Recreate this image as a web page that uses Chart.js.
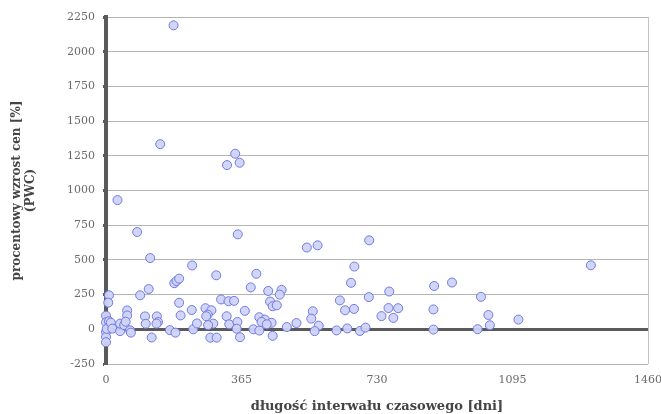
<!DOCTYPE html>
<html>
<head>
<meta charset="utf-8">
<script src="https://cdn.jsdelivr.net/npm/chart.js@4/dist/chart.umd.min.js"></script>
<style>
  html, body { margin: 0; padding: 0; background: #fff; }
  #wrap { width: 661px; height: 414px; }
</style>
</head>
<body>
<div id="wrap"><canvas id="chart"></canvas></div>
<script>
// interval length in days and price growth (PWC) in %
const days = [
    182, 146, 348, 326, 360, 31, 84, 355, 119, 232, 297, 405, 541, 570, 709, 669, 1306,
    184, 190, 197, 8, 6, 92, 115, 390, 437, 473, 468, 660, 884, 932,
    310, 330, 345, 442, 449, 460, 197, 374, 231, 630, 708, 763, 1010,
    644, 668, 761, 787, 774, 742, 882, 557, 553, 513, 487, 573, 562, 621, 650, 684, 699,
    882, 1001, 1030, 1034, 1111,
    0, 0, 0, 0, 0, 2, 8, 13, 17, 38, 38, 49, 57, 57, 53, 65, 67,
    105, 107, 123, 137, 140, 136, 172, 187, 201, 235, 245,
    268, 284, 274, 270, 289, 275, 281, 298, 325, 332, 354, 352, 361,
    397, 413, 413, 428, 419, 446, 433, 449
];
const pwc = [
    2190, 1334, 1265, 1183, 1200, 931, 701, 684, 513, 460, 389, 400, 589, 605, 641, 452, 461,
    332, 348, 365, 245, 192, 245, 290, 302, 276, 284, 250, 335, 312, 337,
    215, 202, 205, 200, 166, 173, 191, 133, 139, 208, 232, 272, 234,
    137, 147, 153, 152, 82, 95, 143, 130, 77, 45, 16, 26, -13, -8, 6, -12, 12,
    -2, 1, 103, 29, 70,
    98, 50, -19, -55, -93, 3, 58, 48, 5, -13, 41, 30, 136, 100, 55, -7, -24,
    93, 40, -59, 93, 52, 41, -6, -24, 100, 0, 42,
    152, 137, 106, 94, 41, 30, -60, -60, 94, 36, 53, 4, -57,
    0, -9, 87, 70, 53, 47, 36, -47
];
const xTicks = [0, 365, 730, 1095, 1460];
const yTicks = [-250, 0, 250, 500, 750, 1000, 1250, 1500, 1750, 2000, 2250];

const points = days.map((d, i) => ({ x: d, y: pwc[i] }));

const serif = "'DejaVu Serif', 'Liberation Serif', serif";

new Chart(document.getElementById('chart'), {
    type: 'scatter',
    data: {
        datasets: [{
            data: points,
            pointRadius: 4.5,
            pointHoverRadius: 4.5,
            backgroundColor: 'rgba(208, 212, 246, 0.95)',
            borderColor: '#6f78e4',
            borderWidth: 1,
            clip: false
        }]
    },
    options: {
        responsive: true,
        maintainAspectRatio: false,
        animation: false,
        layout: { padding: { top: 17, right: 13, bottom: 0, left: 2 } },
        plugins: {
            legend: { display: false },
            tooltip: { enabled: false }
        },
        scales: {
            x: {
                type: 'linear',
                min: xTicks[0],
                max: xTicks[xTicks.length - 1],
                afterBuildTicks: (axis) => { axis.ticks = xTicks.map(v => ({ value: v })); },
                afterFit: (axis) => {
                    axis.height = 50;
                    axis.paddingRight = 0;
                },
                grid: {
                    drawTicks: false,
                    color: (ctx) => ctx.tick && ctx.tick.value === 1460 ? '#c4c4c4' : 'rgba(0,0,0,0)',
                    lineWidth: 1
                },
                border: { display: false },
                ticks: {
                    padding: 10,
                    color: '#6a6a6a',
                    font: { family: serif, size: 11 },
                    callback: (v) => String(v)
                },
                title: {
                    display: true,
                    text: 'długość interwału czasowego [dni]',
                    color: '#444',
                    padding: { top: 4, bottom: 0 },
                    font: { family: serif, size: 13, weight: 'bold' }
                }
            },
            y: {
                min: yTicks[0],
                max: yTicks[yTicks.length - 1],
                afterBuildTicks: (axis) => { axis.ticks = yTicks.map(v => ({ value: v })); },
                afterFit: (axis) => { axis.width = 104; },
                grid: {
                    color: (ctx) => ctx.tick && ctx.tick.value === 0 ? '#5a5a5a' : '#b4b4b4',
                    lineWidth: (ctx) => ctx.tick && ctx.tick.value === 0 ? 3 : 1,
                    tickColor: '#5a5a5a',
                    tickLength: 3,
                    tickWidth: 3
                },
                border: { display: true, color: '#5a5a5a', width: 4 },
                ticks: {
                    padding: 8,
                    color: '#6a6a6a',
                    font: { family: serif, size: 11 },
                    callback: (v) => String(v)
                },
                title: {
                    display: true,
                    text: ['procentowy wzrost cen [%]', '(PWC)'],
                    color: '#444',
                    padding: { top: 8, bottom: 0 },
                    font: { family: serif, size: 12, weight: 'bold', lineHeight: 1.15 }
                }
            }
        }
    }
});
</script>
</body>
</html>
